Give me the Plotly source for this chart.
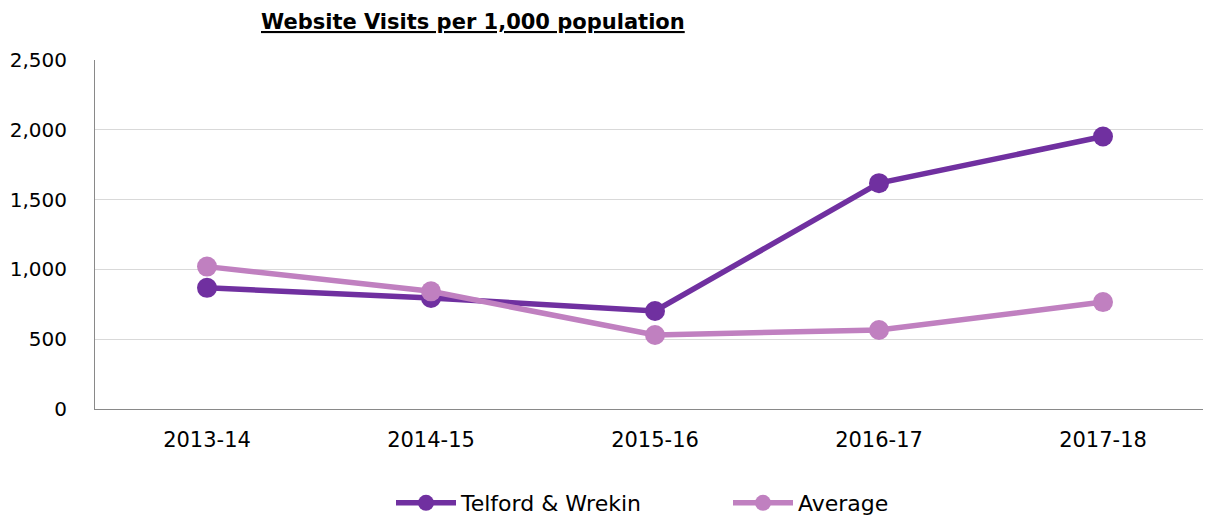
import plotly.graph_objects as go

categories = ["2013-14", "2014-15", "2015-16", "2016-17", "2017-18"]
telford = [868, 795, 702, 1618, 1952]
average = [1020, 843, 530, 566, 766]
y_ticks = [0, 500, 1000, 1500, 2000, 2500]
y_tick_labels = ["0", "500", "1,000", "1,500", "2,000", "2,500"]

FONT = "DejaVu Sans, Verdana, sans-serif"
DARK = "#7030A0"
LIGHT = "#C080C0"

fig = go.Figure()
fig.add_trace(go.Scatter(
    x=list(range(len(categories))), y=telford, name="Telford & Wrekin",
    mode="lines+markers", line=dict(color=DARK, width=5.5),
    marker=dict(color=DARK, size=20)))
fig.add_trace(go.Scatter(
    x=list(range(len(categories))), y=average, name="Average",
    mode="lines+markers", line=dict(color=LIGHT, width=5.5),
    marker=dict(color=LIGHT, size=20)))

fig.update_layout(
    width=1211, height=518, autosize=False,
    margin=dict(l=87, r=4, t=52, b=117, autoexpand=False),
    paper_bgcolor="white", plot_bgcolor="white",
    font=dict(family=FONT, size=21, color="#000000"),
    showlegend=True,
    legend=dict(orientation="h", xref="container", yref="container",
                x=383 / 1211, xanchor="left", y=1 - 495 / 518, yanchor="middle",
                font=dict(family=FONT, size=22), entrywidth=262, itemwidth=60,
                traceorder="normal", bgcolor="rgba(0,0,0,0)"),
    xaxis=dict(tickmode="array", tickvals=list(range(len(categories))), ticktext=categories,
               range=[-0.5, 4.5], showgrid=False, showline=True, linecolor="#898989",
               linewidth=1, ticks="", ticklabelstandoff=12,
               tickfont=dict(family=FONT, size=21), zeroline=False, automargin=False),
    yaxis=dict(range=[0, 2500], tickmode="array", tickvals=y_ticks, ticktext=y_tick_labels,
               showgrid=True, gridcolor="#D9D9D9", gridwidth=1, showline=True,
               linecolor="#898989", linewidth=1, ticks="", ticklabelstandoff=23,
               tickfont=dict(family=FONT, size=20), zeroline=False, automargin=False),
    annotations=[dict(text="<b><u>Website Visits per 1,000 population</u></b>",
                      xref="paper", yref="paper", x=(465 - 87) / 1120, y=1.0,
                      yshift=51, xanchor="center", yanchor="top", showarrow=False,
                      borderpad=0,
                      font=dict(family=FONT, size=21, color="#000000"))],
)

fig.write_html("out.html")
